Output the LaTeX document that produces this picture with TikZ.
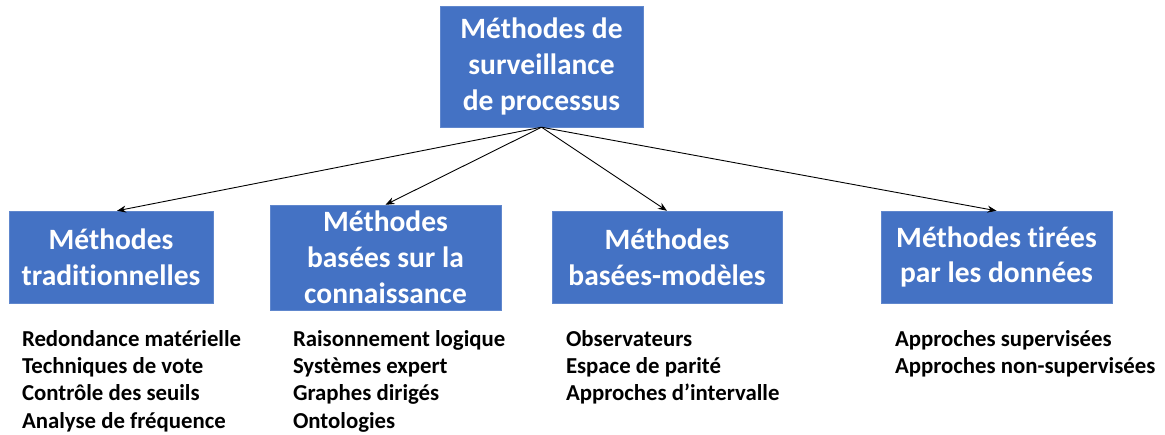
\documentclass[tikz,border=0pt]{standalone}
\usepackage{fontspec}
\setmainfont{Carlito}[Ligatures=NoCommon]
\usetikzlibrary{positioning,arrows.meta}
\definecolor{bleu}{HTML}{4472C4}
\tikzset{methode/.style={shape=rectangle,fill=bleu,draw=bleu!85!white,text=white,
        align=center,inner sep=0pt,minimum height=92pt,
        font=\bfseries\fontsize{29.5}{35.8}\selectfont},
        liste/.style={align=left,inner sep=0pt,
        font=\bfseries\fontsize{22.8}{27.3}\selectfont},
        fleche/.style={-{Stealth[length=9pt,width=7pt]},black,line width=0.9pt}}

\begin{document}
\begin{tikzpicture}[x=1pt,y=-1pt]
  \useasboundingbox (0,0) rectangle (1165,435);
  %% main box
  \node[methode,minimum width=203pt,minimum height=121pt] (surveillance)
       at (541.5,66.5) {Méthodes de\\surveillance\\de processus};
  %% the four families
  \node[methode,minimum width=204pt] (tradi) at (111,257)
       {Méthodes\\traditionnelles};
  \node[methode,minimum width=231pt,minimum height=105pt] (connais) at (385.5,257.5)
       {Méthodes\\basées sur la\\connaissance};
  \node[methode,minimum width=230pt] (modeles) at (667,257)
       {Méthodes\\basées-modèles};
  \node[methode,minimum width=231pt] (donnees) at (996.5,257)
       {Méthodes tirées\\par les données};
  %% arrows
  \draw[fleche] (surveillance.south) -- ([xshift=6pt]tradi.north);
  \draw[fleche] (surveillance.south) -- (connais.north);
  \draw[fleche] (surveillance.south) -- (modeles.north);
  \draw[fleche] (surveillance.south) -- (donnees.north);
  %% lists
  \node[liste,below right=27pt and 13pt of tradi.south west] (liste1)
       {Redondance matérielle\\Techniques de vote\\Contrôle des seuils\\Analyse de fréquence};
  \node[liste,below right=20pt and 23pt of connais.south west] (liste2)
       {Raisonnement logique\\Systèmes expert\\Graphes dirigés\\Ontologies};
  \node[liste,below right=27pt and 14pt of modeles.south west] (liste3)
       {Observateurs\\Espace de parité\\Approches d’intervalle};
  \node[liste,below right=27pt and 14pt of donnees.south west] (liste4)
       {Approches supervisées\\Approches non-supervisées};
\end{tikzpicture}
\end{document}
